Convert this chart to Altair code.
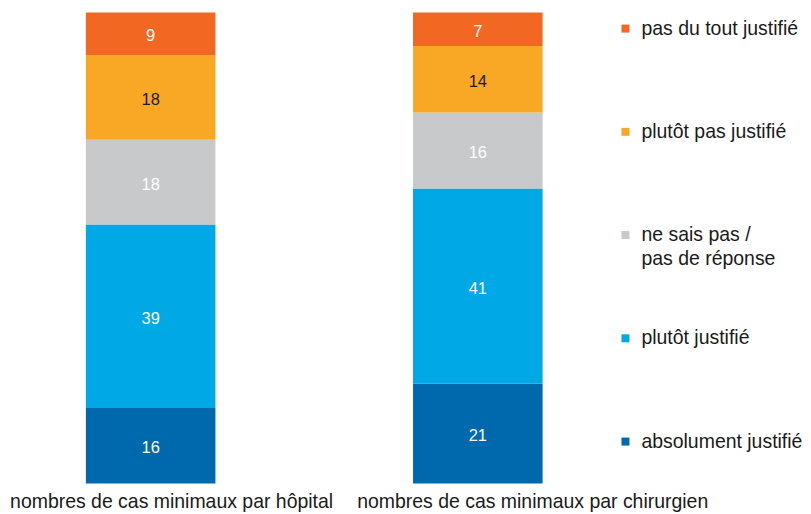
import altair as alt
import pandas as pd

groups = ["nombres de cas minimaux par hôpital", "nombres de cas minimaux par chirurgien"]
categories = [
    "absolument justifié",
    "plutôt justifié",
    "ne sais pas / pas de réponse",
    "plutôt pas justifié",
    "pas du tout justifié",
]
hopital = [16, 39, 18, 18, 9]
chirurgien = [21, 41, 16, 14, 7]
colors = ["#0069ae", "#00a8e6", "#c8c9cb", "#f9a825", "#f26722"]
value_colors = ["#ffffff", "#ffffff", "#ffffff", "#1a1a1a", "#ffffff"]
legend_labels = [
    "absolument justifié",
    "plutôt justifié",
    "ne sais pas /\npas de réponse",
    "plutôt pas justifié",
    "pas du tout justifié",
]

FONT = "Liberation Sans"

rows = []
for g, vals in zip(groups, [hopital, chirurgien]):
    for i, (c, v) in enumerate(zip(categories, vals)):
        rows.append({"group": g, "cat": c, "value": v, "order": i, "tcolor": value_colors[i]})
df = pd.DataFrame(rows)

base = alt.Chart(df).transform_stack(
    stack="value",
    groupby=["group"],
    as_=["y0", "y1"],
    sort=[alt.SortField("order", order="ascending")],
    offset="normalize",
).transform_calculate(mid="(datum.y0 + datum.y1) / 2")

x_enc = alt.X(
    "group:N",
    sort=groups,
    scale=alt.Scale(paddingInner=0.604, paddingOuter=0.238),
    axis=alt.Axis(
        title=None,
        domain=False,
        ticks=False,
        labelAngle=0,
        labelFont=FONT,
        labelFontSize=19.5,
        labelColor="#1a1a1a",
        labelPadding=9,
        labelLimit=500,
        labelOffset={
            "condition": {"test": f"datum.value === '{groups[0]}'", "value": 21},
            "value": 55,
        },
    ),
)

bars = base.mark_bar().encode(
    x=x_enc,
    y=alt.Y("y0:Q", scale=alt.Scale(domain=[0, 1]), axis=None),
    y2="y1:Q",
    color=alt.Color("cat:N", scale=alt.Scale(domain=categories, range=colors), legend=None),
)

labels = base.mark_text(font=FONT, fontSize=16.5, baseline="middle", dy=2.5).encode(
    x=x_enc,
    y=alt.Y("mid:Q", scale=alt.Scale(domain=[0, 1]), axis=None),
    text=alt.Text("value:Q"),
    color=alt.Color("tcolor:N", scale=None),
)

left = alt.layer(bars, labels).properties(width=614, height=472)

top_down = categories[::-1]
leg_df = pd.DataFrame({"cat": categories, "label": legend_labels})
ly = alt.Y("cat:N", sort=top_down, scale=alt.Scale(padding=0.28, align=0.276), axis=None)

squares = alt.Chart(leg_df).mark_square(size=64, opacity=1).encode(
    x=alt.value(5),
    y=ly,
    color=alt.Color("cat:N", scale=alt.Scale(domain=categories, range=colors), legend=None),
)
leg_text = alt.Chart(leg_df).mark_text(
    font=FONT, fontSize=19.5, align="left", baseline="alphabetic", dy=6,
    lineBreak="\n", lineHeight=24, color="#1a1a1a",
).encode(
    x=alt.value(21),
    y=ly,
    text="label:N",
)
right = alt.layer(squares, leg_text).properties(width=181, height=472)

chart = alt.hconcat(left, right, spacing=0, bounds="flush").properties(
    padding={"top": 4, "left": 0, "right": 0, "bottom": 0}
).configure(background="white").configure_view(stroke=None)

chart.save("out.html", embed_options={"renderer": "svg", "actions": False})
